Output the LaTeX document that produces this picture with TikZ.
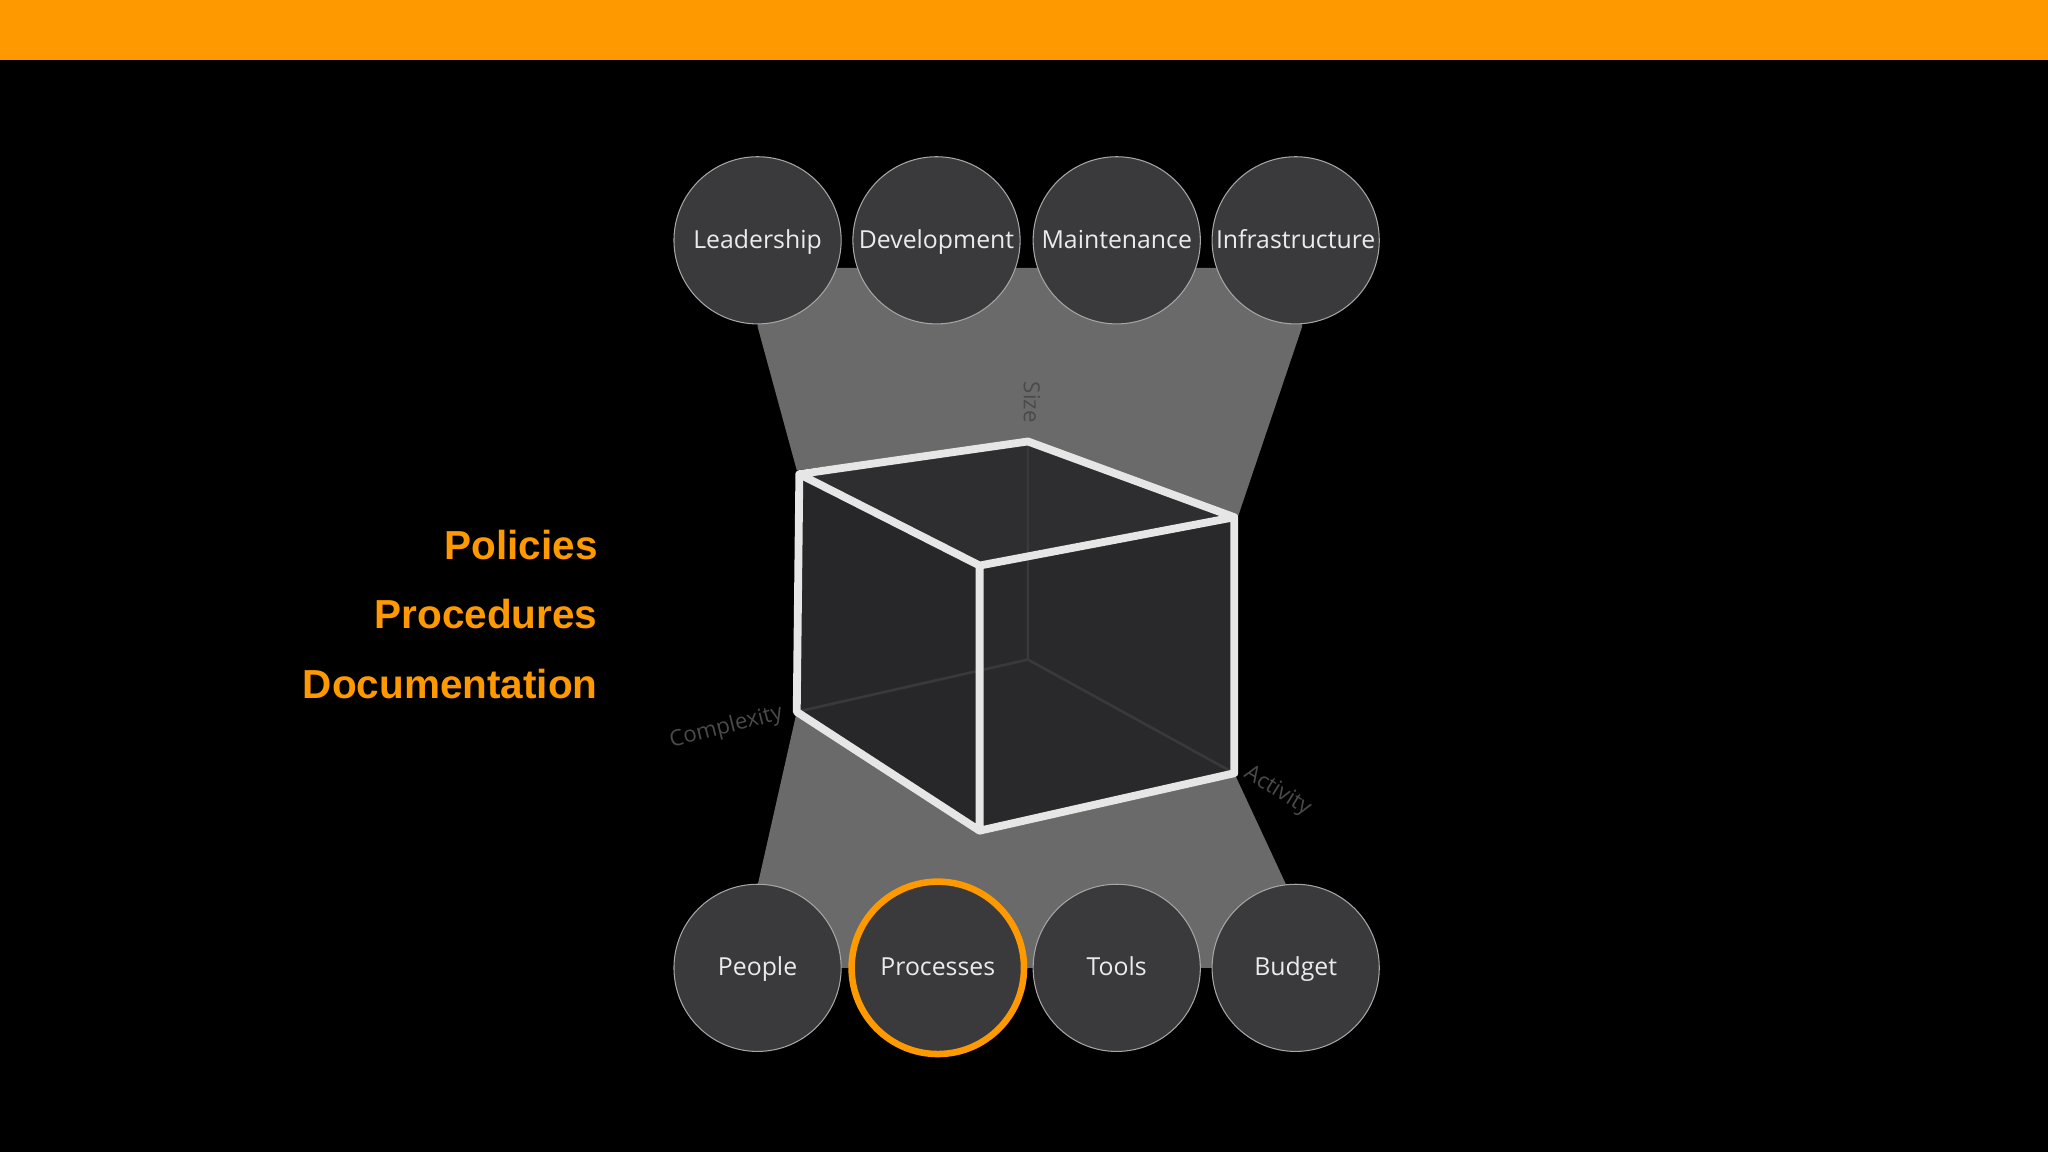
\documentclass[tikz,border=0pt]{standalone}
\usepackage{fontspec}
\setmainfont{Open Sans}
\newfontfamily\boldsans{Liberation Sans}
\definecolor{orng}{HTML}{FF9900}
\definecolor{circ}{HTML}{3A3A3C}
\definecolor{band}{HTML}{6A6A6A}
\definecolor{face}{HTML}{2E2E30}
\definecolor{edge}{HTML}{E6E6E6}
\definecolor{axis}{HTML}{4A4A4A}
\tikzset{
  ball/.style={circle,minimum size=128pt,inner sep=0pt,fill=circ,draw=gray!70,line width=0.8pt,text=white!92!black,font=\fontsize{19}{22}\selectfont,text height=14pt,text depth=2pt},
  sel/.style={draw=orng,line width=5pt,minimum size=132pt},
  side/.style={text=orng,font=\boldsans\bfseries\fontsize{31}{36}\selectfont,anchor=east},
  axl/.style={text=axis,font=\fontsize{17}{20}\selectfont},
  cubeedge/.style={draw=edge,line width=6pt,line join=round,line cap=round}
}
\begin{document}
\begin{tikzpicture}[x=1pt,y=-1pt]
\fill[black] (0,0) rectangle (1568,882);
\useasboundingbox (0,0) rectangle (1568,882);
\fill[orng] (0,0) rectangle (1568,46);
% bands
\fill[band] (580,205) -- (997,205) -- (997,250) -- (948,395) -- (787,338) -- (610,360) -- (580,250) -- cycle;
\fill[band] (610,545) -- (750,636) -- (945,592) -- (985,678) -- (985,741) -- (580,741) -- (580,678) -- cycle;
% cube
\coordinate (A) at (612,363);
\coordinate (B) at (787,338);
\coordinate (C) at (945,396);
\coordinate (D) at (750,433);
\coordinate (E) at (610,545);
\coordinate (F) at (750,636);
\coordinate (G) at (945,592);
\coordinate (H) at (787,505);
\fill[face] (A) -- (B) -- (C) -- (D) -- cycle;
\fill[face!85!black] (A) -- (D) -- (F) -- (E) -- cycle;
\fill[face!90!black] (D) -- (C) -- (G) -- (F) -- cycle;
\draw[gray!45!black,line width=2pt] (B) -- (H) (H) -- (E) (H) -- (G);
\draw[cubeedge] (A) -- (B) -- (C) -- (D) -- cycle (A) -- (E) -- (F) -- (G) -- (C) (D) -- (F);
% axis labels
\node[axl,rotate=-90] (sz) at (790,308) {Size};
\node[axl,rotate=14] (cx) at (556,557) {Complexity};
\node[axl,rotate=-32] (ac) at (978,606) {Activity};
% circles
\node[ball] (l) at (580,184) {Leadership};
\node[ball] (d) at (717,184) {Development};
\node[ball] (m) at (855,184) {Maintenance};
\node[ball] (i) at (992,184) {Infrastructure};
\node[ball] (p) at (580,741) {People};
\node[ball] (t) at (855,741) {Tools};
\node[ball] (b) at (992,741) {Budget};
\node[ball,sel] (pr) at (718,741) {Processes};
% side text
\node[side] (s1) at (461,417) {Policies};
\node[side] (s2) at (461,470) {Procedures};
\node[side] (s3) at (461,524) {Documentation};
\end{tikzpicture}
\end{document}
